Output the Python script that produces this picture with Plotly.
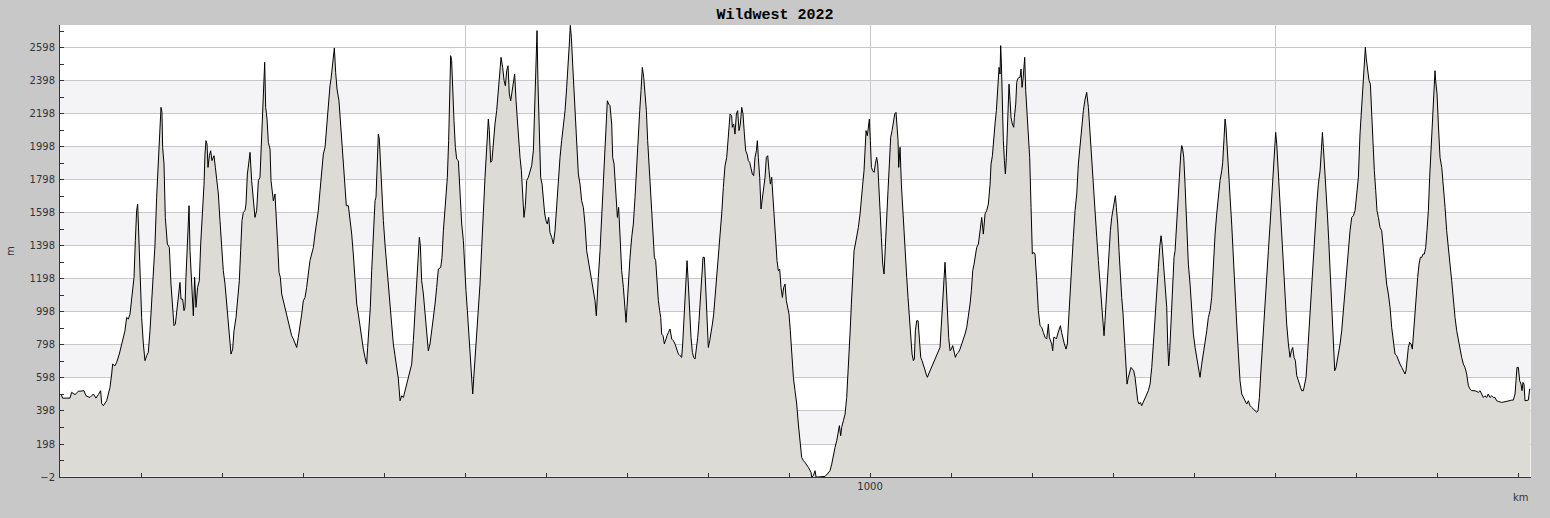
import plotly.graph_objects as go

# elevation profile in stretches of the route
km_a = [0, 1.2, 3.3, 12.3, 14.4, 18.5, 22.6, 29.6, 32.1, 37.0,
        41.2, 44.4, 47.3, 50.2, 51.4, 53.5, 57.6, 61.7, 63.8, 65.0,
        67.9, 70.0, 73.2, 76.1, 78.2, 80.2, 82.3, 84.4, 86.4, 88.5,
        89.7, 91.4, 93.0, 94.6, 95.9, 96.7, 97.9, 98.8, 100.8, 102.9,
        104.9, 107.0, 109.0, 111.1, 113.2, 115.2, 117.3, 119.3, 121.4, 122.6,
        124.7, 125.9, 126.7, 128.4, 130.0, 132.5, 135.0, 137.0, 139.1, 140.7,
        142.4, 144.0, 145.7, 147.3, 148.1, 149.4, 151.4, 153.1, 154.3, 155.5,
        157.2, 158.4, 159.3, 160.5, 162.5, 164.6, 166.2, 167.9, 169.9, 172.0,
        173.7, 176.1, 177.8, 179.0, 180.2, 181.5, 182.7, 184.4, 186.0, 187.6,
        190.1, 191.8, 193.4, 195.5, 197.5, 199.6, 201.6, 203.7, 205.8, 207.8,
        209.9, 211.1, 213.2, 214.8, 217.3, 219.3, 221.4, 223.0, 224.7, 226.3,
        228.4, 229.6, 231.3, 232.9, 234.6]
m_a = [495, 501, 476, 476, 511, 497, 517, 521, 490, 480,
       501, 476, 497, 521, 444, 430, 460, 541, 622, 682,
       672, 693, 743, 804, 854, 884, 965, 955, 985, 1086,
       1137, 1208, 1430, 1612, 1652, 1531, 1309, 1147, 965, 804,
       703, 733, 753, 884, 1066, 1258, 1410, 1693, 1895, 2076,
       2238, 2208, 1996, 1895, 1571, 1410, 1389, 1167, 1026, 915,
       925, 1006, 1046, 1127, 1177, 1076, 1076, 1006, 1026, 1208,
       1410, 1612, 1642, 1369, 1187, 975, 1208, 1026, 1147, 1187,
       1410, 1612, 1773, 1955, 2036, 2016, 1874, 1945, 1975, 1915,
       1945, 1874, 1794, 1713, 1551, 1389, 1248, 1167, 1046, 925,
       794, 743, 773, 884, 965, 1086, 1187, 1369, 1551, 1602,
       1612, 1652, 1834, 1895, 1965]

km_b = [236.6, 238.7, 240.7, 242.8, 244.9, 246.9, 249.0, 251.0, 251.9, 252.7,
        253.9, 255.6, 257.2, 259.3, 260.5, 262.1, 263.4, 265.4, 267.5, 268.7,
        270.4, 272.0, 273.7, 275.7, 277.8, 279.8, 281.9, 283.9, 286.0, 288.1,
        290.1, 292.2, 294.2, 296.3, 298.4, 300.4, 302.5, 304.5, 306.6, 308.6,
        310.7, 312.8, 314.8, 316.9, 318.9, 321.0, 323.0, 325.1, 327.2, 329.2,
        331.3, 333.3, 334.6, 336.2, 337.5, 338.7, 340.3, 342.0, 344.4, 346.1,
        347.7, 349.8, 351.9, 353.5, 356.0, 358.0, 360.1, 362.1, 364.2, 366.3,
        368.3, 370.4, 372.4, 374.5, 376.5, 378.6, 379.8, 381.5, 383.1, 384.8,
        386.8, 388.9, 390.1, 391.4, 392.2, 393.0, 394.2, 395.5, 397.1, 399.2,
        401.2, 403.3, 405.4, 407.4, 409.5, 411.5, 413.6, 415.6, 417.7, 419.8,
        421.8, 423.9, 425.9, 428.0, 430.0, 432.1, 434.2, 436.2, 438.3, 440.3,
        442.4, 443.6, 444.9, 446.5, 448.6, 450.6, 452.7, 454.7, 456.8, 458.8,
        460.9, 463.0]
m_b = [1794, 1652, 1571, 1612, 1794, 1814, 2036, 2238, 2389, 2511,
       2238, 2167, 2026, 1985, 1794, 1723, 1672, 1713, 1551, 1410,
       1238, 1208, 1107, 1066, 1026, 985, 935, 895, 854, 834,
       804, 783, 844, 905, 985, 1066, 1086, 1147, 1248, 1309,
       1349, 1389, 1470, 1531, 1612, 1733, 1854, 1955, 1996, 2137,
       2278, 2369, 2410, 2480, 2541, 2598, 2450, 2349, 2278, 2157,
       2016, 1854, 1693, 1642, 1642, 1571, 1470, 1349, 1208, 1046,
       985, 905, 824, 773, 723, 682, 783, 884, 1026, 1248,
       1450, 1672, 1693, 1854, 1985, 2076, 2046, 1895, 1753, 1551,
       1410, 1288, 1147, 1066, 925, 804, 733, 652, 592, 460,
       490, 480, 521, 551, 592, 642, 682, 824, 985, 1127,
       1288, 1450, 1400, 1187, 1107, 985, 834, 763, 804, 874,
       945, 1046]

km_c = [465.0, 467.1, 470.0, 471.6, 473.3, 474.9, 476.6, 478.2, 479.8, 481.5,
        482.3, 483.5, 484.8, 486.4, 488.1, 489.7, 491.8, 493.8, 495.9, 498.0,
        499.6, 501.2, 502.9, 504.5, 506.2, 507.8, 509.5, 511.1, 512.8, 514.4,
        516.5, 518.5, 520.6, 522.6, 524.7, 526.8, 528.8, 530.0, 531.7, 533.3,
        535.0, 537.0, 539.1, 541.2, 543.2, 544.5, 546.5, 548.2, 549.8, 551.5,
        553.1, 554.7, 556.4, 558.0, 559.7, 561.3, 563.0, 564.6, 566.3, 567.9,
        569.6, 571.2, 572.8, 574.5, 576.1, 578.2, 580.3, 582.3, 584.4, 585.6,
        586.8, 588.1, 588.9, 590.1, 591.8, 593.4, 595.1, 596.7, 598.4, 600.0,
        601.6, 603.3, 604.9, 607.0, 609.1, 611.1, 613.2, 615.2, 617.3, 619.3,
        621.4, 623.5, 625.5, 627.6, 628.8, 630.0, 631.3, 632.9, 634.6, 636.2,
        637.9, 639.9, 642.0, 644.0, 646.1, 648.1, 650.2, 652.3, 654.3, 656.4,
        658.4, 660.5, 662.1, 663.4, 664.6, 666.7, 668.7, 670.8, 672.4, 674.1,
        675.7, 677.4, 679.0, 681.1, 682.3, 684.0, 685.2, 686.4, 688.1, 689.7,
        691.4]
m_c = [1147, 1258, 1268, 1329, 1490, 1592, 1713, 1814, 2036, 2299,
       2551, 2521, 2299, 2157, 1996, 1925, 1915, 1733, 1531, 1430,
       1248, 1127, 1006, 864, 723, 632, 501, 622, 743, 844,
       965, 1167, 1389, 1652, 1814, 1996, 2167, 2097, 1905, 1915,
       2036, 2137, 2218, 2339, 2460, 2541, 2480, 2400, 2369, 2460,
       2490, 2319, 2278, 2339, 2410, 2440, 2278, 2157, 2056, 1935,
       1854, 1733, 1571, 1642, 1794, 1814, 1854, 1884, 1975, 2137,
       2339, 2541, 2703, 2379, 1996, 1814, 1773, 1672, 1592, 1551,
       1531, 1571, 1480, 1450, 1410, 1490, 1652, 1814, 1935, 2036,
       2117, 2218, 2359, 2501, 2622, 2735, 2662, 2501, 2319, 2137,
       1975, 1834, 1773, 1672, 1632, 1531, 1369, 1309, 1248, 1208,
       1147, 1066, 975, 1147, 1208, 1369, 1571, 1773, 1955, 2137,
       2278, 2258, 2248, 2137, 1935, 1895, 1773, 1652, 1571, 1632,
       1430]

km_d = [693.4, 695.5, 697.5, 698.8, 700.0, 701.7, 703.7, 705.8, 707.8, 709.9,
        711.9, 714.0, 715.7, 717.3, 718.9, 720.6, 722.2, 723.9, 725.5, 727.2,
        728.8, 730.5, 732.1, 733.8, 735.4, 737.0, 738.7, 740.3, 741.6, 742.8,
        744.5, 746.1, 747.8, 749.4, 751.0, 753.1, 755.2, 757.2, 759.3, 761.3,
        763.4, 765.4, 767.5, 768.7, 770.0, 771.6, 772.9, 774.1, 775.7, 777.4,
        779.0, 780.7, 782.3, 784.0, 785.6, 787.3, 788.9, 790.5, 792.2, 793.8,
        795.5, 797.1, 798.8, 800.4, 802.1, 803.7, 805.4, 807.0, 808.7, 810.7,
        812.8, 814.8, 816.9, 818.9, 821.0, 823.1, 825.1, 827.2, 829.2, 830.0,
        831.7, 833.3, 835.0, 836.6, 838.3, 839.9, 841.6, 843.2, 844.9, 846.5,
        848.2, 849.8, 851.4, 853.1, 854.7, 856.4, 858.0, 859.7, 860.9, 862.1,
        863.8, 865.4, 867.1, 868.7, 870.4, 872.0, 873.7, 875.3, 877.0, 878.6,
        880.3, 881.9, 883.5, 885.2, 886.8, 888.5, 890.1, 891.8, 893.4, 895.1,
        896.7, 898.4, 900.0, 901.6, 903.3, 905.4, 907.4, 909.5, 911.5, 913.6,
        915.6, 917.7, 919.8]
m_d = [1248, 1147, 1026, 935, 1026, 1208, 1329, 1450, 1531, 1693,
       1895, 2097, 2218, 2339, 2480, 2420, 2339, 2218, 2036, 1895,
       1713, 1551, 1450, 1329, 1309, 1167, 1066, 1006, 965, 864,
       854, 804, 824, 854, 874, 895, 834, 824, 804, 773,
       743, 733, 723, 804, 945, 1107, 1248, 1309, 1167, 985,
       844, 753, 723, 713, 763, 844, 945, 1086, 1208, 1329,
       1329, 1127, 925, 783, 824, 864, 925, 985, 1086, 1208,
       1369, 1470, 1592, 1753, 1884, 1935, 2076, 2198, 2187, 2117,
       2137, 2076, 2198, 2218, 2097, 2137, 2238, 2198, 2076, 1975,
       1955, 1915, 1905, 1874, 1834, 1824, 1935, 1975, 2036, 1935,
       1814, 1622, 1693, 1733, 1814, 1935, 1945, 1854, 1773, 1814,
       1672, 1551, 1430, 1309, 1248, 1258, 1147, 1086, 1147, 1167,
       1066, 1026, 985, 884, 743, 602, 521, 440, 319, 218,
       117, 97, 86]

km_e = [923.9, 927.2, 928.0, 930.1, 932.1, 933.4, 936.2, 940.3, 944.5, 947.3,
        950.6, 952.7, 954.8, 956.8, 958.9, 960.9, 962.2, 963.8, 965.0, 967.1,
        969.2, 971.2, 972.4, 973.7, 975.3, 977.0, 978.6, 980.3, 981.9, 983.6,
        985.6, 987.7, 989.3, 991.0, 992.6, 994.3, 995.1, 996.7, 998.0, 999.2,
        1000.4, 1001.7, 1003.3, 1005.0, 1006.6, 1008.2, 1009.5, 1010.7, 1012.4, 1014.0,
        1015.7, 1017.3, 1018.9, 1020.6, 1022.2, 1023.9, 1025.5, 1027.2, 1028.8, 1030.5,
        1032.1, 1032.9, 1034.6, 1035.4, 1036.2, 1037.1, 1038.7, 1040.4, 1042.0, 1043.6,
        1045.3, 1046.9, 1048.6, 1050.2, 1051.9, 1053.5, 1054.7, 1056.0, 1057.6, 1059.3,
        1060.9, 1062.6, 1064.2, 1065.9, 1067.5, 1069.2, 1070.8, 1072.4, 1074.1, 1076.1,
        1078.2, 1080.3, 1082.3, 1084.4, 1086.4, 1088.1, 1089.7, 1091.4, 1092.6, 1093.8,
        1095.5, 1097.1, 1098.8, 1100.4, 1102.1, 1103.7, 1105.4, 1107.0, 1109.1, 1111.1,
        1113.2, 1115.2, 1117.3, 1119.4, 1121.4, 1123.5, 1125.1, 1126.8, 1128.4, 1130.1,
        1131.7, 1133.8, 1135.8, 1137.9, 1139.9, 1142.0, 1144.0, 1146.1, 1148.2]
m_e = [56, 26, -2, 6, 36, -2, -2, 2, 2, 16,
       36, 76, 137, 177, 218, 278, 309, 248, 299, 339,
       379, 480, 622, 723, 864, 1046, 1208, 1369, 1410, 1450,
       1511, 1592, 1713, 1773, 1854, 2076, 2097, 2066, 2137, 2167,
       2036, 1874, 1854, 1844, 1895, 1935, 1895, 1733, 1612, 1450,
       1288, 1228, 1369, 1531, 1733, 1895, 2056, 2097, 2137, 2198,
       2208, 2137, 2036, 1874, 1935, 1996, 1773, 1612, 1470, 1329,
       1208, 1086, 945, 824, 743, 703, 713, 884, 945, 945,
       804, 723, 703, 682, 652, 622, 602, 622, 642, 662,
       693, 713, 743, 763, 783, 925, 1066, 1187, 1299, 1187,
       1006, 844, 763, 773, 794, 753, 723, 743, 753, 773,
       804, 824, 864, 905, 965, 1046, 1127, 1248, 1288, 1349,
       1389, 1410, 1490, 1571, 1470, 1592, 1612, 1652, 1773]

km_f = [1149.4, 1151.1, 1152.7, 1154.3, 1156.0, 1157.6, 1159.3, 1160.5, 1161.3, 1162.2,
        1163.4, 1164.6, 1165.9, 1167.1, 1168.3, 1169.6, 1170.8, 1171.6, 1172.9, 1174.1,
        1175.7, 1177.4, 1178.2, 1179.9, 1181.1, 1182.3, 1184.0, 1185.2, 1186.4, 1187.7,
        1188.9, 1190.1, 1191.0, 1192.2, 1193.8, 1195.5, 1197.1, 1198.8, 1200.4, 1202.1,
        1203.7, 1205.8, 1207.8, 1209.9, 1212.0, 1214.0, 1216.1, 1218.1, 1220.2, 1221.4,
        1223.1, 1224.3, 1225.5, 1226.8, 1228.4, 1230.1, 1231.7, 1233.4, 1235.0, 1236.6,
        1238.3, 1239.9, 1242.0, 1243.6, 1244.9, 1246.9, 1249.0, 1251.0, 1253.1, 1255.2,
        1257.2, 1259.3, 1261.3, 1263.4, 1265.5, 1267.5, 1269.6, 1271.6, 1273.7, 1275.7,
        1277.8, 1279.9, 1281.9, 1284.0, 1286.0, 1287.7, 1288.9, 1290.1, 1291.8, 1293.4,
        1295.1, 1296.7, 1298.4, 1300.0, 1301.7, 1302.9, 1304.1, 1305.8, 1307.4, 1309.1,
        1310.7, 1312.4, 1314.0, 1315.7, 1317.3, 1318.9, 1320.6, 1322.2, 1323.9, 1325.5,
        1327.2, 1328.8, 1330.5, 1332.1, 1333.8, 1335.4, 1337.1, 1338.7, 1340.3, 1342.0,
        1343.6, 1345.7, 1347.8, 1349.8, 1351.9, 1353.9, 1356.0, 1357.6, 1359.3, 1360.5,
        1362.2, 1364.2, 1366.3, 1367.5, 1368.7, 1370.0, 1371.6, 1373.3, 1375.3, 1376.6]
m_f = [1895, 1945, 2056, 2137, 2218, 2339, 2480, 2440, 2612, 2501,
       2238, 2036, 1915, 1834, 1935, 2097, 2238, 2379, 2278, 2177,
       2137, 2117, 2177, 2258, 2389, 2410, 2420, 2420, 2470, 2359,
       2410, 2480, 2541, 2339, 2198, 2076, 1935, 1632, 1349, 1359,
       1349, 1187, 1006, 915, 905, 874, 844, 834, 925, 844,
       824, 804, 763, 844, 844, 834, 864, 895, 915, 874,
       824, 804, 773, 804, 925, 1127, 1268, 1450, 1612, 1713,
       1895, 2016, 2137, 2218, 2288, 2329, 2238, 2076, 1895, 1753,
       1612, 1450, 1309, 1167, 1026, 925, 854, 945, 1086, 1268,
       1369, 1490, 1571, 1612, 1652, 1703, 1632, 1531, 1369, 1208,
       1086, 985, 864, 743, 561, 602, 642, 662, 652, 642,
       602, 521, 460, 440, 450, 430, 450, 470, 480, 501,
       521, 561, 662, 804, 985, 1127, 1268, 1389, 1460, 1410,
       1288, 1167, 1026, 804, 672, 763, 965, 1167, 1329, 1369]

km_g = [1378.6, 1380.3, 1381.9, 1383.6, 1384.8, 1386.0, 1387.3, 1388.9, 1391.0, 1393.0,
        1395.1, 1397.1, 1399.2, 1401.3, 1403.3, 1405.4, 1407.4, 1409.5, 1411.6, 1413.6,
        1415.7, 1417.7, 1419.8, 1421.8, 1423.9, 1426.0, 1428.0, 1430.1, 1432.1, 1434.2,
        1435.4, 1437.1, 1438.3, 1439.5, 1441.2, 1442.8, 1444.5, 1446.5, 1448.6, 1450.6,
        1452.7, 1454.8, 1456.8, 1458.9, 1460.9, 1463.0, 1465.0, 1467.1, 1469.2, 1471.2,
        1473.3, 1475.3, 1477.4, 1479.0, 1480.7, 1482.3, 1484.0, 1485.6, 1487.7, 1489.7,
        1491.8, 1493.9, 1495.9, 1498.0, 1499.6, 1500.8, 1502.1, 1503.7, 1505.4, 1507.0,
        1508.7, 1510.3, 1512.4, 1514.4, 1516.5, 1518.5, 1520.2, 1521.8, 1523.5, 1525.1,
        1526.8, 1528.8, 1530.9, 1532.9, 1535.0, 1536.6, 1538.3, 1539.9, 1541.6, 1543.2,
        1545.3, 1547.3, 1549.4, 1551.5, 1553.5, 1555.6, 1557.2, 1558.5, 1559.7, 1561.3,
        1563.0, 1564.6, 1566.3, 1567.9, 1570.0, 1572.0, 1573.7, 1575.3, 1577.0, 1578.6,
        1580.3, 1582.3, 1584.4, 1586.4, 1588.5, 1590.5, 1592.6, 1594.7, 1596.7, 1598.8]
m_g = [1571, 1713, 1814, 1955, 2006, 1985, 1935, 1773, 1531, 1288,
       1167, 1006, 864, 783, 723, 682, 602, 682, 743, 804,
       884, 965, 1006, 1086, 1288, 1470, 1592, 1713, 1794, 1854,
       1905, 2056, 2167, 2117, 1996, 1854, 1693, 1531, 1309, 1086,
       925, 743, 581, 501, 480, 460, 440, 460, 430, 420,
       410, 400, 390, 400, 480, 622, 763, 925, 1086, 1248,
       1369, 1531, 1693, 1854, 1975, 2086, 2016, 1874, 1733, 1531,
       1410, 1228, 1066, 925, 804, 723, 763, 783, 723, 703,
       612, 581, 561, 521, 521, 561, 602, 723, 864, 1006,
       1147, 1309, 1490, 1652, 1773, 1854, 1975, 2086, 1996, 1834,
       1713, 1592, 1430, 1248, 1006, 844, 642, 662, 703, 743,
       804, 884, 1006, 1147, 1288, 1410, 1490, 1571, 1581, 1612]

km_h = [1602.9, 1604.9, 1607.0, 1609.0, 1610.3, 1611.5, 1612.7, 1614.4, 1616.0, 1617.7,
        1619.3, 1621.0, 1622.6, 1624.3, 1625.9, 1627.6, 1629.6, 1631.7, 1633.7, 1635.8,
        1637.8, 1639.9, 1642.0, 1644.0, 1646.1, 1648.1, 1650.2, 1652.2, 1654.3, 1656.4,
        1658.4, 1660.5, 1661.7, 1662.9, 1664.6, 1666.2, 1667.9, 1669.5, 1671.2, 1672.8,
        1674.5, 1676.1, 1677.8, 1679.4, 1681.1, 1682.7, 1684.3, 1686.0, 1687.6, 1689.3,
        1690.9, 1692.6, 1694.2, 1695.9, 1697.5, 1698.3, 1700.0, 1701.6, 1703.7, 1705.8,
        1707.8, 1709.9, 1711.9, 1714.0, 1716.0, 1718.1, 1720.1, 1722.2, 1724.3, 1726.3,
        1728.4, 1730.4, 1732.5, 1734.5, 1736.6, 1738.7, 1740.7, 1742.8, 1746.9, 1751.0,
        1753.1, 1755.1, 1757.2, 1759.2, 1761.3, 1763.3, 1765.4, 1767.5, 1769.5, 1771.6,
        1773.6, 1775.7, 1779.8, 1783.9, 1788.0, 1792.2, 1794.2, 1796.3, 1797.5, 1798.7,
        1800.4, 1802.0, 1803.7, 1804.9, 1806.1, 1807.4, 1808.6, 1810.7, 1812.7, 1814.4,
        1815.2]
m_h = [1814, 2076, 2238, 2420, 2480, 2602, 2531, 2440, 2400, 2379,
       2198, 1996, 1854, 1733, 1612, 1571, 1511, 1490, 1369, 1288,
       1167, 1107, 1026, 905, 804, 743, 733, 703, 682, 662,
       642, 622, 642, 723, 783, 814, 804, 773, 884, 1026,
       1127, 1208, 1288, 1329, 1329, 1349, 1349, 1389, 1490, 1612,
       1814, 1975, 2137, 2299, 2460, 2400, 2319, 2137, 1935, 1874,
       1773, 1632, 1490, 1369, 1288, 1187, 1066, 965, 884, 824,
       763, 723, 682, 662, 622, 551, 531, 521, 521, 511,
       521, 501, 480, 490, 480, 501, 480, 490, 480, 480,
       460, 456, 450, 454, 460, 464, 464, 501, 581, 662,
       662, 581, 561, 521, 571, 561, 460, 460, 464, 531,
       531]

y_ticks = [-2, 198, 398, 598, 798, 998, 1198, 1398, 1598, 1798, 1998, 2198, 2398, 2598]
y_minor = [98, 298, 498, 698, 898, 1098, 1298, 1498, 1698, 1898, 2098, 2298, 2498, 2698]
x_ticks = [500, 1000, 1500]
x_labels = ["", "1000", ""]
x_minor = [100, 200, 300, 400, 600, 700, 800, 900, 1100, 1200, 1300, 1400, 1600, 1700, 1800]
band_starts = [198, 598, 998, 1398, 1798, 2198]

distance_km = []
elevation_m = []
for kms, ms in [(km_a, m_a), (km_b, m_b), (km_c, m_c), (km_d, m_d),
                (km_e, m_e), (km_f, m_f), (km_g, m_g), (km_h, m_h)]:
    n = min(len(kms), len(ms))
    if len(kms) != len(ms):
        print("length mismatch", len(kms), len(ms))
    distance_km += kms[:n]
    elevation_m += ms[:n]

fig = go.Figure()
fig.add_trace(go.Scatter(
    x=distance_km, y=elevation_m,
    mode="lines",
    line=dict(color="black", width=1),
    fill="tozeroy",
    fillcolor="#dcdbd6",
    hoverinfo="x+y",
    showlegend=False,
))

# alternating light bands behind the grid
for lo in band_starts:
    fig.add_shape(type="rect", xref="paper", x0=0, x1=1, yref="y", y0=lo, y1=lo + 200,
                  fillcolor="#f4f3f6", line_width=0, layer="below")

tick_font = dict(family="DejaVu Sans", size=10, color="#333333")

fig.update_layout(
    width=1550, height=518,
    paper_bgcolor="#c8c8c8",
    plot_bgcolor="white",
    margin=dict(l=60, r=19, t=25, b=41),
    title=dict(text="<b>Wildwest 2022</b>", x=0.5, xanchor="center", y=0.973, yanchor="middle",
               font=dict(family="Liberation Mono", size=15, color="black")),
    xaxis=dict(range=[0, 1816], tickmode="array", tickvals=x_ticks, ticktext=x_labels,
               showgrid=True, gridcolor="#c8c8c8", gridwidth=1, zeroline=False,
               ticks="inside", ticklen=4, tickcolor="#333333",
               showline=True, linecolor="#333333", linewidth=1,
               tickfont=tick_font,
               minor=dict(tickmode="array", tickvals=x_minor, ticks="inside", ticklen=4,
                          tickcolor="#333333", showgrid=False)),
    yaxis=dict(range=[-2, 2737], tickmode="array", tickvals=y_ticks,
               showgrid=True, gridcolor="#c8c8c8", gridwidth=1, zeroline=False,
               ticks="inside", ticklen=4, tickcolor="#333333",
               showline=True, linecolor="#333333", linewidth=1,
               tickfont=tick_font, ticklabelstandoff=2,
               minor=dict(tickmode="array", tickvals=y_minor, ticks="inside", ticklen=4,
                          tickcolor="#333333", showgrid=False)),
    annotations=[
        dict(text="m", xref="paper", yref="paper", x=0, y=0.5, xanchor="center",
             yanchor="middle", xshift=-50, textangle=-90, showarrow=False, font=tick_font),
        dict(text="km", xref="paper", yref="paper", x=1, y=0, xanchor="center",
             yanchor="middle", xshift=-10, yshift=-20, showarrow=False, font=tick_font),
    ],
)

# the page itself should not add a white frame round the figure
fig.write_html("out.html", config={"displayModeBar": False},
               post_script="document.body.style.margin='0';")
